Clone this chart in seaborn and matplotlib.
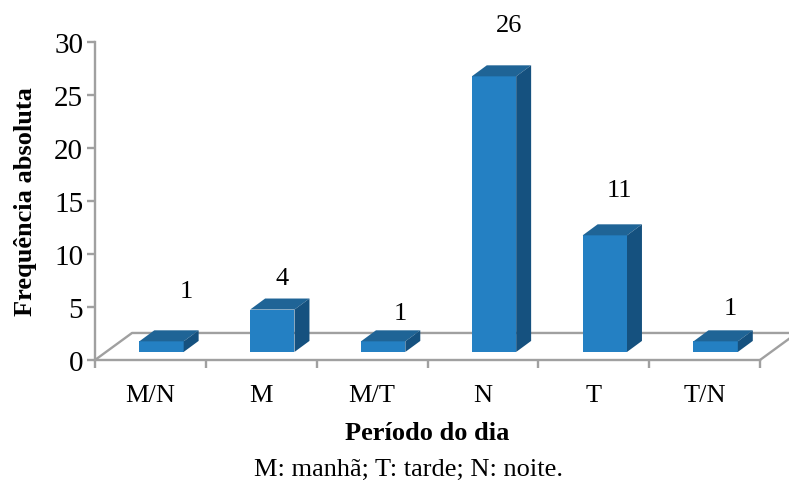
import numpy as np
import seaborn as sns
import matplotlib.pyplot as plt
from matplotlib.patches import Polygon

periods = ["M/N", "M", "M/T", "N", "T", "T/N"]
counts = [1, 4, 1, 26, 11, 1]
y_ticks = [0, 5, 10, 15, 20, 25, 30]

sns.set_style("white")
plt.rcParams["font.family"] = ["Liberation Serif", "DejaVu Serif"]
plt.rcParams["text.color"] = "black"
plt.rcParams["axes.labelcolor"] = "black"

FRONT = "#2480C3"
TOP = "#1F6496"
SIDE = "#15517F"
GREY = "#A0A0A0"

fig = plt.figure(figsize=(7.89, 4.81), dpi=100)
ax = fig.add_axes([95 / 789, 1 - 361 / 481, 665 / 789, 318 / 481])

# the fake 3D depth, in axis units (about 15 px and 11 px for a bar)
base = 0.76
shift = 0.1
dx, dy = 0.135, 1.04

sns.barplot(x=periods, y=counts, color=FRONT, saturation=1, width=0.4,
            bottom=base, linewidth=0, ax=ax, zorder=3)
ax.set_xlim(-0.5, 5.5)
ax.set_ylim(0, 30)

for p in ax.patches:
    p.set_x(p.get_x() + shift)
    x0, x1 = p.get_x(), p.get_x() + p.get_width()
    y0, y1 = p.get_y(), p.get_y() + p.get_height()
    ax.add_patch(Polygon([(x0, y1), (x1, y1), (x1 + dx, y1 + dy), (x0 + dx, y1 + dy)],
                         facecolor=TOP, edgecolor="none", zorder=3))
    ax.add_patch(Polygon([(x1, y0), (x1 + dx, y0 + dy), (x1 + dx, y1 + dy), (x1, y1)],
                         facecolor=SIDE, edgecolor="none", zorder=3))

# floor behind the bars
floor_x, floor_y = 0.334, 2.55
ax.plot([-0.5, -0.5 + floor_x, 5.5 + floor_x, 5.5],
        [0, floor_y, floor_y, 0],
        color=GREY, lw=1.7, clip_on=False, zorder=1)

for side in ["top", "right"]:
    ax.spines[side].set_visible(False)
for side in ["left", "bottom"]:
    ax.spines[side].set_color(GREY)
    ax.spines[side].set_linewidth(1.7)

ax.set_yticks(y_ticks)
ax.set_xticks(range(len(periods)), periods)
ax.set_xticks(np.arange(-0.5, 6), minor=True)
ax.tick_params(axis="x", which="major", length=0, labelsize=19, pad=17, labelcolor="black")
ax.tick_params(axis="x", which="minor", length=5.5, width=1.7, color=GREY, bottom=True)
ax.tick_params(axis="y", length=5.5, width=1.7, color=GREY, left=True, labelsize=21, pad=3, labelcolor="black")

ax.set_xlabel("Período do dia", fontsize=19, fontweight="bold", labelpad=11)
ax.set_ylabel("Frequência absoluta", fontsize=19, fontweight="bold", labelpad=12.5)

# value labels were placed by hand in the original, offsets in px from bar top
label_dx = [25, 10, 17, 15, 15, 15]
label_dy = [50, 32, 28, 51, 45, 33]
for i, c in enumerate(counts):
    ax.annotate(str(c), (i + shift, c + base), xytext=(label_dx[i] * 0.72, label_dy[i] * 0.72),
                textcoords="offset points", ha="center", va="center",
                fontsize=19, annotation_clip=False)

fig.text(409 / 789, 1 - 470 / 481, "M: manhã; T: tarde; N: noite.", fontsize=19,
         ha="center", va="center")

fig.savefig("out.png", dpi=100)
